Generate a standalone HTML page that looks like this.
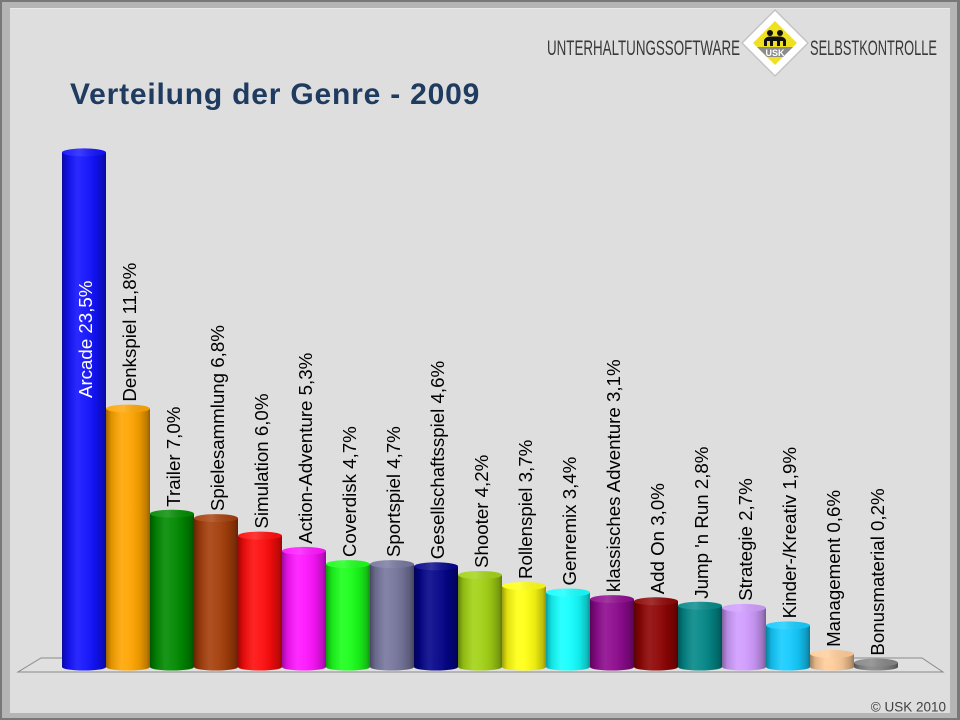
<!DOCTYPE html>
<html><head><meta charset="utf-8"><style>
html,body{margin:0;padding:0;background:#dedede;}
svg{display:block;}
text{font-family:"Liberation Sans",Arial,sans-serif;}
</style></head><body>
<svg width="960" height="720" viewBox="0 0 960 720" xmlns="http://www.w3.org/2000/svg">
<defs>
<linearGradient id="cyl" x1="0" x2="1" y1="0" y2="0">
<stop offset="0" stop-color="#000" stop-opacity="0.38"/>
<stop offset="0.12" stop-color="#000" stop-opacity="0.12"/>
<stop offset="0.35" stop-color="#fff" stop-opacity="0.10"/>
<stop offset="0.5" stop-color="#fff" stop-opacity="0.06"/>
<stop offset="0.75" stop-color="#000" stop-opacity="0.08"/>
<stop offset="0.92" stop-color="#000" stop-opacity="0.25"/>
<stop offset="1" stop-color="#000" stop-opacity="0.42"/>
</linearGradient>
<linearGradient id="cap" x1="0" x2="1" y1="0" y2="0">
<stop offset="0" stop-color="#fff" stop-opacity="0.05"/>
<stop offset="0.4" stop-color="#fff" stop-opacity="0.18"/>
<stop offset="1" stop-color="#000" stop-opacity="0.05"/>
</linearGradient>
<clipPath id="inner"><polygon points="775,21 797,43 775,65 753,43"/></clipPath>
</defs>
<!-- frame -->
<rect width="960" height="720" fill="#787878"/>
<rect x="2" y="2" width="955" height="716" fill="#b5b5b5"/>
<rect x="10" y="8" width="940" height="705" fill="#dedede"/>
<rect x="10" y="8" width="940" height="1" fill="#e9e9e9"/>

<!-- header -->
<text x="547" y="55" font-size="21" fill="#383838" textLength="193" lengthAdjust="spacingAndGlyphs">UNTERHALTUNGSSOFTWARE</text>
<text x="810" y="55" font-size="21" fill="#383838" textLength="127" lengthAdjust="spacingAndGlyphs">SELBSTKONTROLLE</text>
<polygon points="775,10 808,43 775,76 742,43" fill="#ffffff" stroke="#c4c4c4" stroke-width="1.5"/>
<polygon points="775,21 797,43 775,65 753,43" fill="#efe021"/>
<g clip-path="url(#inner)"><rect x="750" y="47" width="50" height="10" fill="#8c8c8c"/></g>
<text x="775" y="56" font-size="9" font-weight="bold" fill="#fff" text-anchor="middle">USK</text>
<circle cx="770" cy="33" r="3" fill="#111"/>
<circle cx="780" cy="33" r="3" fill="#111"/>
<path d="M764,40 Q766,36.5 770,36.5 L780,36.5 Q784,36.5 786,40 L786,46 L783,46 L783,41 L780,41 L780,46 L777,46 L777,41 L773,41 L773,46 L770,46 L770,41 L767,41 L767,46 L764,46 Z" fill="#111"/>

<!-- title -->
<text x="70" y="104" font-size="30" font-weight="bold" fill="#1f3b60" letter-spacing="0.8">Verteilung der Genre - 2009</text>

<!-- floor -->
<polygon points="41,658 922,658 943,672 18,672" fill="#e0e0e0" stroke="#8a8a8a" stroke-width="1"/>

<!-- bars -->
<g id="bars">
<!-- template: x0, top = 667-21.9v -->
<!-- 1 Arcade 23.5 top 152.4 -->
<g><rect x="62" y="152.4" width="44" height="514.6" fill="#1212ff"/><rect x="62" y="152.4" width="44" height="514.6" fill="url(#cyl)"/><ellipse cx="84" cy="667" rx="22" ry="3.5" fill="#1212ff"/><ellipse cx="84" cy="667" rx="22" ry="3.5" fill="url(#cyl)"/><ellipse cx="84" cy="152.4" rx="22" ry="4" fill="#1212ff"/><ellipse cx="84" cy="152.4" rx="22" ry="4" fill="url(#cap)"/></g>
<!-- 2 Denkspiel 11.8 top 408.6 -->
<g><rect x="106" y="408.6" width="44" height="258.4" fill="#ffa500"/><rect x="106" y="408.6" width="44" height="258.4" fill="url(#cyl)"/><ellipse cx="128" cy="667" rx="22" ry="3.5" fill="#ffa500"/><ellipse cx="128" cy="667" rx="22" ry="3.5" fill="url(#cyl)"/><ellipse cx="128" cy="408.6" rx="22" ry="4" fill="#ffa500"/><ellipse cx="128" cy="408.6" rx="22" ry="4" fill="url(#cap)"/></g>
<!-- 3 Trailer 7.0 top 513.7 -->
<g><rect x="150" y="513.7" width="44" height="153.3" fill="#008a00"/><rect x="150" y="513.7" width="44" height="153.3" fill="url(#cyl)"/><ellipse cx="172" cy="667" rx="22" ry="3.5" fill="#008a00"/><ellipse cx="172" cy="667" rx="22" ry="3.5" fill="url(#cyl)"/><ellipse cx="172" cy="513.7" rx="22" ry="4" fill="#008a00"/><ellipse cx="172" cy="513.7" rx="22" ry="4" fill="url(#cap)"/></g>
<!-- 4 Spielesammlung 6.8 top 518.1 -->
<g><rect x="194" y="518.1" width="44" height="148.9" fill="#a53e0a"/><rect x="194" y="518.1" width="44" height="148.9" fill="url(#cyl)"/><ellipse cx="216" cy="667" rx="22" ry="3.5" fill="#a53e0a"/><ellipse cx="216" cy="667" rx="22" ry="3.5" fill="url(#cyl)"/><ellipse cx="216" cy="518.1" rx="22" ry="4" fill="#a53e0a"/><ellipse cx="216" cy="518.1" rx="22" ry="4" fill="url(#cap)"/></g>
<!-- 5 Simulation 6.0 top 535.6 -->
<g><rect x="238" y="535.6" width="44" height="131.4" fill="#ff0c0c"/><rect x="238" y="535.6" width="44" height="131.4" fill="url(#cyl)"/><ellipse cx="260" cy="667" rx="22" ry="3.5" fill="#ff0c0c"/><ellipse cx="260" cy="667" rx="22" ry="3.5" fill="url(#cyl)"/><ellipse cx="260" cy="535.6" rx="22" ry="4" fill="#ff0c0c"/><ellipse cx="260" cy="535.6" rx="22" ry="4" fill="url(#cap)"/></g>
<!-- 6 Action-Adventure 5.3 top 550.9 -->
<g><rect x="282" y="550.9" width="44" height="116.1" fill="#ff14ff"/><rect x="282" y="550.9" width="44" height="116.1" fill="url(#cyl)"/><ellipse cx="304" cy="667" rx="22" ry="3.5" fill="#ff14ff"/><ellipse cx="304" cy="667" rx="22" ry="3.5" fill="url(#cyl)"/><ellipse cx="304" cy="550.9" rx="22" ry="4" fill="#ff14ff"/><ellipse cx="304" cy="550.9" rx="22" ry="4" fill="url(#cap)"/></g>
<!-- 7 Coverdisk 4.7 top 564.1 -->
<g><rect x="326" y="564.1" width="44" height="102.9" fill="#1aff1a"/><rect x="326" y="564.1" width="44" height="102.9" fill="url(#cyl)"/><ellipse cx="348" cy="667" rx="22" ry="3.5" fill="#1aff1a"/><ellipse cx="348" cy="667" rx="22" ry="3.5" fill="url(#cyl)"/><ellipse cx="348" cy="564.1" rx="22" ry="4" fill="#1aff1a"/><ellipse cx="348" cy="564.1" rx="22" ry="4" fill="url(#cap)"/></g>
<!-- 8 Sportspiel 4.7 -->
<g><rect x="370" y="564.1" width="44" height="102.9" fill="#76769e"/><rect x="370" y="564.1" width="44" height="102.9" fill="url(#cyl)"/><ellipse cx="392" cy="667" rx="22" ry="3.5" fill="#76769e"/><ellipse cx="392" cy="667" rx="22" ry="3.5" fill="url(#cyl)"/><ellipse cx="392" cy="564.1" rx="22" ry="4" fill="#76769e"/><ellipse cx="392" cy="564.1" rx="22" ry="4" fill="url(#cap)"/></g>
<!-- 9 Gesellschaftsspiel 4.6 top 566.3 -->
<g><rect x="414" y="566.3" width="44" height="100.7" fill="#04048a"/><rect x="414" y="566.3" width="44" height="100.7" fill="url(#cyl)"/><ellipse cx="436" cy="667" rx="22" ry="3.5" fill="#04048a"/><ellipse cx="436" cy="667" rx="22" ry="3.5" fill="url(#cyl)"/><ellipse cx="436" cy="566.3" rx="22" ry="4" fill="#04048a"/><ellipse cx="436" cy="566.3" rx="22" ry="4" fill="url(#cap)"/></g>
<!-- 10 Shooter 4.2 top 575.0 -->
<g><rect x="458" y="575.0" width="44" height="92" fill="#a2d214"/><rect x="458" y="575.0" width="44" height="92" fill="url(#cyl)"/><ellipse cx="480" cy="667" rx="22" ry="3.5" fill="#a2d214"/><ellipse cx="480" cy="667" rx="22" ry="3.5" fill="url(#cyl)"/><ellipse cx="480" cy="575.0" rx="22" ry="4" fill="#a2d214"/><ellipse cx="480" cy="575.0" rx="22" ry="4" fill="url(#cap)"/></g>
<!-- 11 Rollenspiel 3.7 top 586.0 -->
<g><rect x="502" y="586.0" width="44" height="81" fill="#ffff12"/><rect x="502" y="586.0" width="44" height="81" fill="url(#cyl)"/><ellipse cx="524" cy="667" rx="22" ry="3.5" fill="#ffff12"/><ellipse cx="524" cy="667" rx="22" ry="3.5" fill="url(#cyl)"/><ellipse cx="524" cy="586.0" rx="22" ry="4" fill="#ffff12"/><ellipse cx="524" cy="586.0" rx="22" ry="4" fill="url(#cap)"/></g>
<!-- 12 Genremix 3.4 top 592.5 -->
<g><rect x="546" y="592.5" width="44" height="74.5" fill="#14ffff"/><rect x="546" y="592.5" width="44" height="74.5" fill="url(#cyl)"/><ellipse cx="568" cy="667" rx="22" ry="3.5" fill="#14ffff"/><ellipse cx="568" cy="667" rx="22" ry="3.5" fill="url(#cyl)"/><ellipse cx="568" cy="592.5" rx="22" ry="4" fill="#14ffff"/><ellipse cx="568" cy="592.5" rx="22" ry="4" fill="url(#cap)"/></g>
<!-- 13 klassisches 3.1 top 599.1 -->
<g><rect x="590" y="599.1" width="44" height="67.9" fill="#8e0a8e"/><rect x="590" y="599.1" width="44" height="67.9" fill="url(#cyl)"/><ellipse cx="612" cy="667" rx="22" ry="3.5" fill="#8e0a8e"/><ellipse cx="612" cy="667" rx="22" ry="3.5" fill="url(#cyl)"/><ellipse cx="612" cy="599.1" rx="22" ry="4" fill="#8e0a8e"/><ellipse cx="612" cy="599.1" rx="22" ry="4" fill="url(#cap)"/></g>
<!-- 14 Add On 3.0 top 601.3 -->
<g><rect x="634" y="601.3" width="44" height="65.7" fill="#8e0404"/><rect x="634" y="601.3" width="44" height="65.7" fill="url(#cyl)"/><ellipse cx="656" cy="667" rx="22" ry="3.5" fill="#8e0404"/><ellipse cx="656" cy="667" rx="22" ry="3.5" fill="url(#cyl)"/><ellipse cx="656" cy="601.3" rx="22" ry="4" fill="#8e0404"/><ellipse cx="656" cy="601.3" rx="22" ry="4" fill="url(#cap)"/></g>
<!-- 15 Jump 2.8 top 605.7 -->
<g><rect x="678" y="605.7" width="44" height="61.3" fill="#048888"/><rect x="678" y="605.7" width="44" height="61.3" fill="url(#cyl)"/><ellipse cx="700" cy="667" rx="22" ry="3.5" fill="#048888"/><ellipse cx="700" cy="667" rx="22" ry="3.5" fill="url(#cyl)"/><ellipse cx="700" cy="605.7" rx="22" ry="4" fill="#048888"/><ellipse cx="700" cy="605.7" rx="22" ry="4" fill="url(#cap)"/></g>
<!-- 16 Strategie 2.7 top 607.9 -->
<g><rect x="722" y="607.9" width="44" height="59.1" fill="#d09cff"/><rect x="722" y="607.9" width="44" height="59.1" fill="url(#cyl)"/><ellipse cx="744" cy="667" rx="22" ry="3.5" fill="#d09cff"/><ellipse cx="744" cy="667" rx="22" ry="3.5" fill="url(#cyl)"/><ellipse cx="744" cy="607.9" rx="22" ry="4" fill="#d09cff"/><ellipse cx="744" cy="607.9" rx="22" ry="4" fill="url(#cap)"/></g>
<!-- 17 Kinder 1.9 top 625.4 -->
<g><rect x="766" y="625.4" width="44" height="41.6" fill="#14ccff"/><rect x="766" y="625.4" width="44" height="41.6" fill="url(#cyl)"/><ellipse cx="788" cy="667" rx="22" ry="3.5" fill="#14ccff"/><ellipse cx="788" cy="667" rx="22" ry="3.5" fill="url(#cyl)"/><ellipse cx="788" cy="625.4" rx="22" ry="4" fill="#14ccff"/><ellipse cx="788" cy="625.4" rx="22" ry="4" fill="url(#cap)"/></g>
<!-- 18 Management 0.6 top 653.9 -->
<g><rect x="810" y="653.9" width="44" height="13.1" fill="#ffcc99"/><rect x="810" y="653.9" width="44" height="13.1" fill="url(#cyl)"/><ellipse cx="832" cy="667" rx="22" ry="3.5" fill="#ffcc99"/><ellipse cx="832" cy="667" rx="22" ry="3.5" fill="url(#cyl)"/><ellipse cx="832" cy="653.9" rx="22" ry="4" fill="#ffcc99"/><ellipse cx="832" cy="653.9" rx="22" ry="4" fill="url(#cap)"/></g>
<!-- 19 Bonus 0.2 top 662.6 -->
<g><rect x="854" y="662.6" width="44" height="4.4" fill="#848484"/><rect x="854" y="662.6" width="44" height="4.4" fill="url(#cyl)"/><ellipse cx="876" cy="667" rx="22" ry="3.5" fill="#848484"/><ellipse cx="876" cy="667" rx="22" ry="3.5" fill="url(#cyl)"/><ellipse cx="876" cy="662.6" rx="22" ry="4" fill="#848484"/><ellipse cx="876" cy="662.6" rx="22" ry="4" fill="url(#cap)"/></g>
</g>

<!-- labels -->
<g font-size="18.7" fill="#000">
<text transform="translate(92,398) rotate(-90)" fill="#fff">Arcade 23,5%</text>
<text transform="translate(136,401.6) rotate(-90)">Denkspiel 11,8%</text>
<text transform="translate(180,506.7) rotate(-90)">Trailer 7,0%</text>
<text transform="translate(224,511.1) rotate(-90)">Spielesammlung 6,8%</text>
<text transform="translate(268,528.6) rotate(-90)">Simulation 6,0%</text>
<text transform="translate(312,543.9) rotate(-90)">Action-Adventure 5,3%</text>
<text transform="translate(356,557.1) rotate(-90)">Coverdisk 4,7%</text>
<text transform="translate(400,557.1) rotate(-90)">Sportspiel 4,7%</text>
<text transform="translate(444,559.3) rotate(-90)">Gesellschaftsspiel 4,6%</text>
<text transform="translate(488,568.0) rotate(-90)">Shooter 4,2%</text>
<text transform="translate(532,579.0) rotate(-90)">Rollenspiel 3,7%</text>
<text transform="translate(576,585.5) rotate(-90)">Genremix 3,4%</text>
<text transform="translate(620,592.1) rotate(-90)">klassisches Adventure 3,1%</text>
<text transform="translate(664,594.3) rotate(-90)">Add On 3,0%</text>
<text transform="translate(708,598.7) rotate(-90)">Jump 'n Run 2,8%</text>
<text transform="translate(752,600.9) rotate(-90)">Strategie 2,7%</text>
<text transform="translate(796,618.4) rotate(-90)">Kinder-/Kreativ 1,9%</text>
<text transform="translate(840,646.9) rotate(-90)">Management 0,6%</text>
<text transform="translate(884,655.6) rotate(-90)">Bonusmaterial 0,2%</text>
</g>

<text x="946" y="711.5" font-size="13.5" fill="#404040" text-anchor="end">© USK 2010</text>
</svg>
</body></html>
